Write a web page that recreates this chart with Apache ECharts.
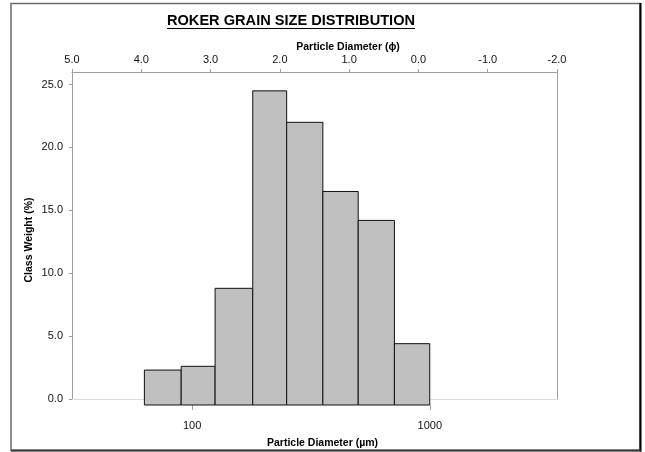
<!DOCTYPE html>
<html>
<head>
<meta charset="utf-8">
<script src="https://cdn.jsdelivr.net/npm/echarts@6/dist/echarts.min.js"></script>
<style>
html,body{margin:0;padding:0;background:#fff;}
#chart{width:645px;height:452px;}
</style>
</head>
<body>
<div id="chart"></div>
<script>
// ---- data ----
const binLowerUm = [63, 90, 125, 180, 250, 355, 500, 710];
const binUpperUm = [90, 125, 180, 250, 355, 500, 710, 1000];
const classWeight = [2.3, 2.6, 8.8, 24.5, 22.0, 16.5, 14.2, 4.4];
const yTickValues = [0, 5, 10, 15, 20, 25];
const umTickValues = [100, 1000];
const phiMin = -2, phiMax = 5;
const titleText = 'ROKER GRAIN SIZE DISTRIBUTION';
const topAxisTitle = 'Particle Diameter (ϕ)';
const bottomAxisTitle = 'Particle Diameter (µm)';
const yAxisTitle = 'Class Weight (%)';

// ---- layout constants ----
const FONT = '"Liberation Sans", Arial, sans-serif';
const yMax = 26;
const barBaseY = -0.477;   // secondary y axis min (bars start slightly below 0 line, as in reference)
const lineGray = '#a0a0a0';

const chart = echarts.init(document.getElementById('chart'), null, {renderer: 'canvas'});

const barData = binLowerUm.map((lo, i) => [lo, binUpperUm[i], classWeight[i]]);

const labelStyle = {color: '#111', fontFamily: FONT, fontSize: 11};

const option = {
  animation: false,
  backgroundColor: '#fff',
  grid: [
    {left: 72, top: 72, width: 485, height: 327, outerBoundsMode: 'none', containLabel: false},
    {left: 72, top: 72, width: 485, height: 333, outerBoundsMode: 'none', containLabel: false}
  ],
  xAxis: [
    { // top phi axis
      gridIndex: 0, type: 'value', position: 'top', inverse: true,
      min: phiMin, max: phiMax, interval: 1,
      axisLine: {show: true, onZero: false, lineStyle: {color: lineGray, width: 1}},
      axisTick: {show: true, inside: false, length: 3, lineStyle: {color: lineGray}},
      axisLabel: Object.assign({margin: 7, formatter: v => v.toFixed(1)}, labelStyle),
      splitLine: {show: false}
    },
    { // zero line of the primary plot
      gridIndex: 0, type: 'value', position: 'bottom', min: 0, max: 1,
      axisLine: {show: true, onZero: false, lineStyle: {color: '#dedccf', width: 1}},
      axisTick: {show: false}, axisLabel: {show: false}, splitLine: {show: false}
    },
    { // bottom log axis in micrometres
      gridIndex: 1, type: 'log', logBase: 10, position: 'bottom',
      min: 31.25, max: 3430,
      axisLine: {show: false, onZero: false},
      axisTick: {show: true, inside: false, length: 5, lineStyle: {color: lineGray}, customValues: umTickValues},
      axisLabel: Object.assign({margin: 15, customValues: umTickValues, formatter: v => String(Math.round(v))}, labelStyle),
      splitLine: {show: false}, minorTick: {show: false}
    }
  ],
  yAxis: [
    {
      gridIndex: 0, type: 'value', position: 'left', min: 0, max: yMax,
      axisLine: {show: true, onZero: false, lineStyle: {color: lineGray, width: 1}},
      axisTick: {show: true, inside: false, length: 3, lineStyle: {color: lineGray}, customValues: yTickValues},
      axisLabel: Object.assign({margin: 9, customValues: yTickValues, formatter: v => v.toFixed(1)}, labelStyle),
      splitLine: {show: false}
    },
    {
      gridIndex: 0, type: 'value', position: 'right', min: 0, max: yMax,
      axisLine: {show: true, onZero: false, lineStyle: {color: lineGray, width: 1}},
      axisTick: {show: false}, axisLabel: {show: false}, splitLine: {show: false}
    },
    {
      gridIndex: 1, type: 'value', min: barBaseY, max: yMax, show: false,
      axisLine: {onZero: false}
    }
  ],
  series: [
    {
      type: 'custom',
      xAxisIndex: 2, yAxisIndex: 2,
      data: barData,
      encode: {x: [0, 1], y: 2},
      renderItem: function (params, api) {
        const lo = api.value(0), hi = api.value(1), v = api.value(2);
        const p0 = api.coord([lo, v]);
        const p1 = api.coord([hi, barBaseY]);
        return {
          type: 'rect',
          shape: {x: p0[0], y: p0[1], width: p1[0] - p0[0], height: p1[1] - p0[1]},
          style: {fill: '#c0c0c0', stroke: '#111', lineWidth: 1}
        };
      },
      z: 3
    }
  ],
  graphic: [
    { // outer chart frame
      type: 'rect', silent: true, z: 10,
      shape: {x: 11, y: 3.5, width: 629, height: 447},
      style: {fill: 'none', stroke: '#6a6a6a', lineWidth: 1.5}
    },
    {type: 'line', silent: true, z: 11, shape: {x1: 640.5, y1: 3, x2: 640.5, y2: 451.5}, style: {stroke: '#000', lineWidth: 2}},
    {type: 'line', silent: true, z: 11, shape: {x1: 11, y1: 450.5, x2: 641.5, y2: 450.5}, style: {stroke: '#333', lineWidth: 2}},
    { // title
      type: 'text', silent: true, x: 291, y: 20.5,
      style: {text: titleText, fontFamily: FONT, fontWeight: 'bold', fontSize: 14.6, fill: '#000', align: 'center', verticalAlign: 'middle'}
    },
    {type: 'line', silent: true, shape: {x1: 167, y1: 28.5, x2: 415, y2: 28.5}, style: {stroke: '#000', lineWidth: 1}},
    {
      type: 'text', silent: true, x: 348, y: 47.5,
      style: {text: topAxisTitle, fontFamily: FONT, fontWeight: 'bold', fontSize: 10.5, fill: '#000', align: 'center', verticalAlign: 'middle'}
    },
    {
      type: 'text', silent: true, x: 322.5, y: 443,
      style: {text: bottomAxisTitle, fontFamily: FONT, fontWeight: 'bold', fontSize: 10.5, fill: '#000', align: 'center', verticalAlign: 'middle'}
    },
    {
      type: 'text', silent: true, x: 29.5, y: 240, rotation: Math.PI / 2,
      style: {text: yAxisTitle, fontFamily: FONT, fontWeight: 'bold', fontSize: 10.5, fill: '#000', align: 'center', verticalAlign: 'middle'}
    }
  ]
};

chart.setOption(option);
</script>
</body>
</html>
